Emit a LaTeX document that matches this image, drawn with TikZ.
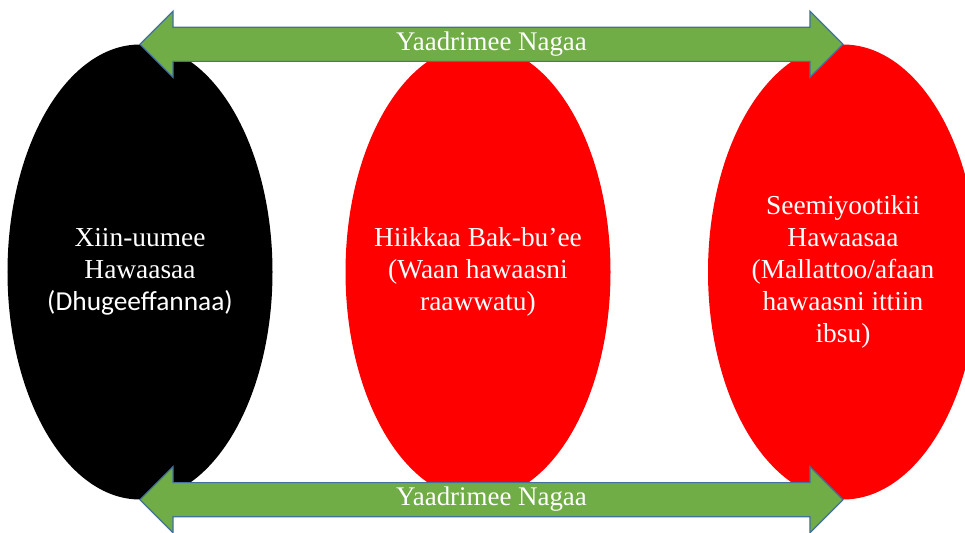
\documentclass[tikz,border=0pt]{standalone}
\usepackage{fontspec}
\setmainfont{Liberation Serif}
\newfontfamily\calibri{Carlito}
\usetikzlibrary{shapes.geometric,shapes.arrows}
\definecolor{nagagreen}{HTML}{70AD47}
\definecolor{nagaedge}{HTML}{41719C}
\definecolor{blobred}{HTML}{FF0000}
\begin{document}
\begin{tikzpicture}[x=1bp,y=-1bp,
    blob/.style={ellipse,inner sep=0pt,minimum height=455bp},
    blobtext/.style={inner sep=0pt,text=white,align=center,
      font=\fontsize{27.5}{32}\selectfont},
    nagaa/.style={double arrow,double arrow head extend=16bp,
      minimum height=703bp,fill=nagagreen,draw=nagaedge,line width=1.2bp,
      text=white,font=\fontsize{27}{32}\selectfont,
      text height=18bp,text depth=6bp,inner ysep=4.5bp}]
  \useasboundingbox (0,0) rectangle (965,533);
  \clip (0,0) rectangle (965,533);
  \node[blob,fill=black,minimum width=265bp] (xiin) at (140,272) {};
  \node[blob,fill=blobred,minimum width=265bp] (hiikkaa) at (478,272) {};
  \node[blob,fill=blobred,minimum width=270bp] (seem) at (843,272) {};
  \node[blobtext] (xiintxt) at (xiin)
    {Xiin-uumee\\Hawaasaa\\{\calibri (Dhugeeffannaa)}};
  \node[blobtext] (hiikkaatxt) at (hiikkaa)
    {Hiikkaa Bak-bu’ee\\(Waan hawaasni\\raawwatu)};
  \node[blobtext] (seemtxt) at (seem)
    {Seemiyootikii\\Hawaasaa\\(Mallattoo/afaan\\hawaasni ittiin\\ibsu)};
  \path (xiin.north) -- (seem.north) node[nagaa,midway] (olii) {Yaadrimee Nagaa};
  \path (xiin.south) -- (seem.south) node[nagaa,midway] (gadii) {Yaadrimee Nagaa};
\end{tikzpicture}
\end{document}
